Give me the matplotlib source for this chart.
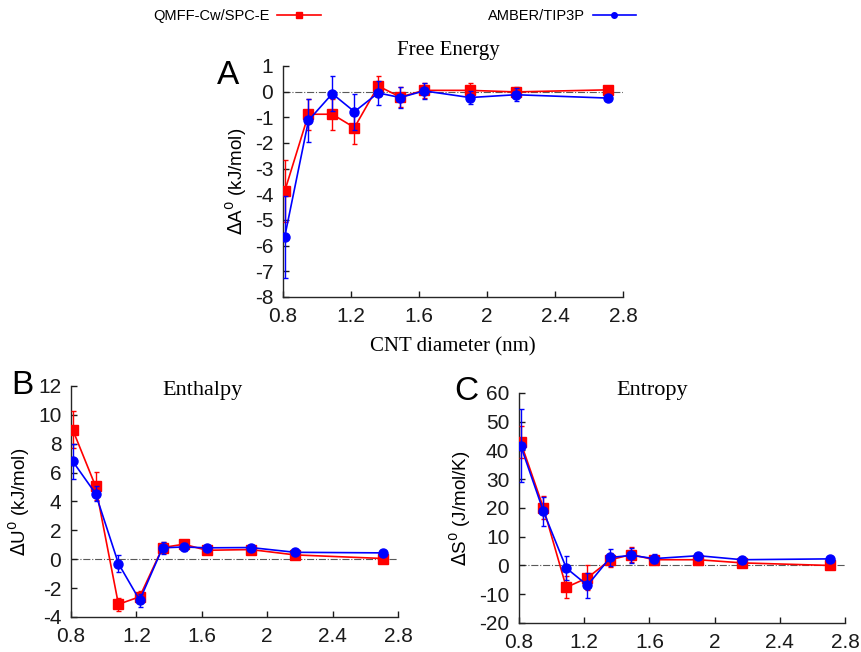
import matplotlib
matplotlib.use("Agg")
import matplotlib.pyplot as plt
from matplotlib.lines import Line2D

# ── data ──────────────────────────────────────────────────────────────────────
diameter = [0.81, 0.95, 1.09, 1.22, 1.36, 1.49, 1.63, 1.90, 2.17, 2.71]

# Free energy (kJ/mol)
dA_qmff = [-3.88, -0.88, -0.88, -1.40, 0.22, -0.21, 0.05, 0.05, -0.01, 0.07]
dA_qmff_err = [1.2, 0.6, 0.6, 0.65, 0.38, 0.4, 0.3, 0.3, 0.2, 0.08]
dA_amber = [-5.66, -1.12, -0.08, -0.78, -0.05, -0.23, 0.03, -0.23, -0.12, -0.25]
dA_amber_err = [1.6, 0.85, 0.68, 0.7, 0.48, 0.42, 0.3, 0.25, 0.25, 0.05]

# Enthalpy (kJ/mol)
dU_qmff = [8.98, 5.06, -3.12, -2.60, 0.81, 1.04, 0.62, 0.67, 0.30, 0.05]
dU_qmff_err = [1.3, 0.95, 0.45, 0.4, 0.4, 0.3, 0.2, 0.2, 0.15, 0.1]
dU_amber = [6.79, 4.55, -0.30, -2.84, 0.79, 0.85, 0.79, 0.81, 0.48, 0.44]
dU_amber_err = [1.2, 0.5, 0.6, 0.45, 0.4, 0.3, 0.2, 0.15, 0.15, 0.1]

# Entropy (J/mol/K)
dS_qmff = [42.9, 20.0, -7.6, -4.3, 2.0, 3.8, 2.0, 2.0, 0.9, 0.0]
dS_qmff_err = [5.5, 4.0, 3.8, 4.3, 2.5, 2.5, 1.5, 1.0, 1.0, 0.5]
dS_amber = [41.7, 18.8, -0.9, -6.9, 2.8, 3.5, 2.4, 3.4, 2.0, 2.3]
dS_amber_err = [12.8, 5.0, 4.3, 4.3, 3.0, 2.5, 1.5, 1.0, 1.0, 0.5]

xticks = [0.8, 1.2, 1.6, 2.0, 2.4, 2.8]
xticklabels = ["0.8", "1.2", "1.6", "2", "2.4", "2.8"]

RED = "#ff0000"
BLUE = "#0000ff"
SANS = ["Liberation Sans", "DejaVu Sans"]
SERIF = ["Liberation Serif", "DejaVu Serif"]
NARROW = ["Liberation Sans Narrow", "Liberation Sans", "DejaVu Sans"]

plt.rcParams["font.family"] = SANS

fig = plt.figure(figsize=(8.62, 6.52), dpi=100)


def panel(rect, y_red, e_red, y_blue, e_blue, ylim, yticks, ylabel):
    ax = fig.add_axes(rect)
    ax.axhline(0, color="0.35", lw=0.8, ls="-.", zorder=1)
    ax.errorbar(diameter, y_red, yerr=e_red, color=RED, marker="s", ms=6.5,
                lw=1.2, elinewidth=1.0, capsize=1.8, zorder=3)
    ax.errorbar(diameter, y_blue, yerr=e_blue, color=BLUE, marker="o", ms=6.5,
                lw=1.2, elinewidth=1.0, capsize=1.8, zorder=4)
    ax.set_xlim(0.8, 2.8)
    ax.set_ylim(*ylim)
    ax.set_xticks(xticks)
    ax.set_xticklabels(xticklabels)
    ax.set_yticks(yticks)
    ax.set_yticklabels([str(v) for v in yticks])
    for s in ("top", "right"):
        ax.spines[s].set_visible(False)
    for s in ("left", "bottom"):
        ax.spines[s].set_linewidth(1.0)
        ax.spines[s].set_color("0.15")
    ax.tick_params(direction="in", length=4, width=1.0, labelsize=15, pad=7,
                   colors="0.1")
    ax.set_ylabel(ylabel, fontsize=13.5)
    ax.patch.set_alpha(0)
    return ax


axA = panel([0.3283, 0.5445, 0.3944, 0.3543], dA_qmff, dA_qmff_err, dA_amber,
            dA_amber_err, (-8, 1), list(range(-8, 2)), r"$\Delta$A$^0$ (kJ/mol)")
axA.set_xlabel("CNT diameter (nm)", family=SERIF, fontsize=15, labelpad=8)

axB = panel([0.0824, 0.0537, 0.3793, 0.3543], dU_qmff, dU_qmff_err, dU_amber,
            dU_amber_err, (-4, 12), list(range(-4, 13, 2)), r"$\Delta$U$^0$ (kJ/mol)")

axC = panel([0.6021, 0.0445, 0.3782, 0.3528], dS_qmff, dS_qmff_err, dS_amber,
            dS_amber_err, (-20, 60), list(range(-20, 61, 10)), r"$\Delta$S$^0$ (J/mol/K)")

# titles and panel letters (pixel positions from the reference)
W, H = 862, 652
fig.text(448 / W, 1 - 51 / H, "Free Energy", family=SERIF, fontsize=15,
         ha="center", va="center")
fig.text(203 / W, 1 - 390 / H, "Enthalpy", family=SERIF, fontsize=16,
         ha="center", va="center")
fig.text(652 / W, 1 - 390 / H, "Entropy", family=SERIF, fontsize=16,
         ha="center", va="center")
fig.text(228 / W, 1 - 75 / H, "A", fontsize=24, ha="center", va="center")
fig.text(22 / W, 1 - 386 / H, "B", fontsize=24, ha="center", va="center")
fig.text(466 / W, 1 - 392 / H, "C", fontsize=24, ha="center", va="center")

# legend across the top
handles = [
    Line2D([], [], color=RED, marker="s", ms=5, lw=1.2),
    Line2D([], [], color=BLUE, marker="o", ms=4, lw=1.2),
]
fig.legend(handles, ["QMFF-Cw/SPC-E", "AMBER/TIP3P"], loc="center left",
           bbox_to_anchor=(140 / W, 1 - 16 / H), ncol=2, frameon=False,
           markerfirst=False, handlelength=3.0, columnspacing=11.5,
           handletextpad=0.5, prop={"family": NARROW, "size": 10.5})

fig.savefig("out.png", dpi=100)
